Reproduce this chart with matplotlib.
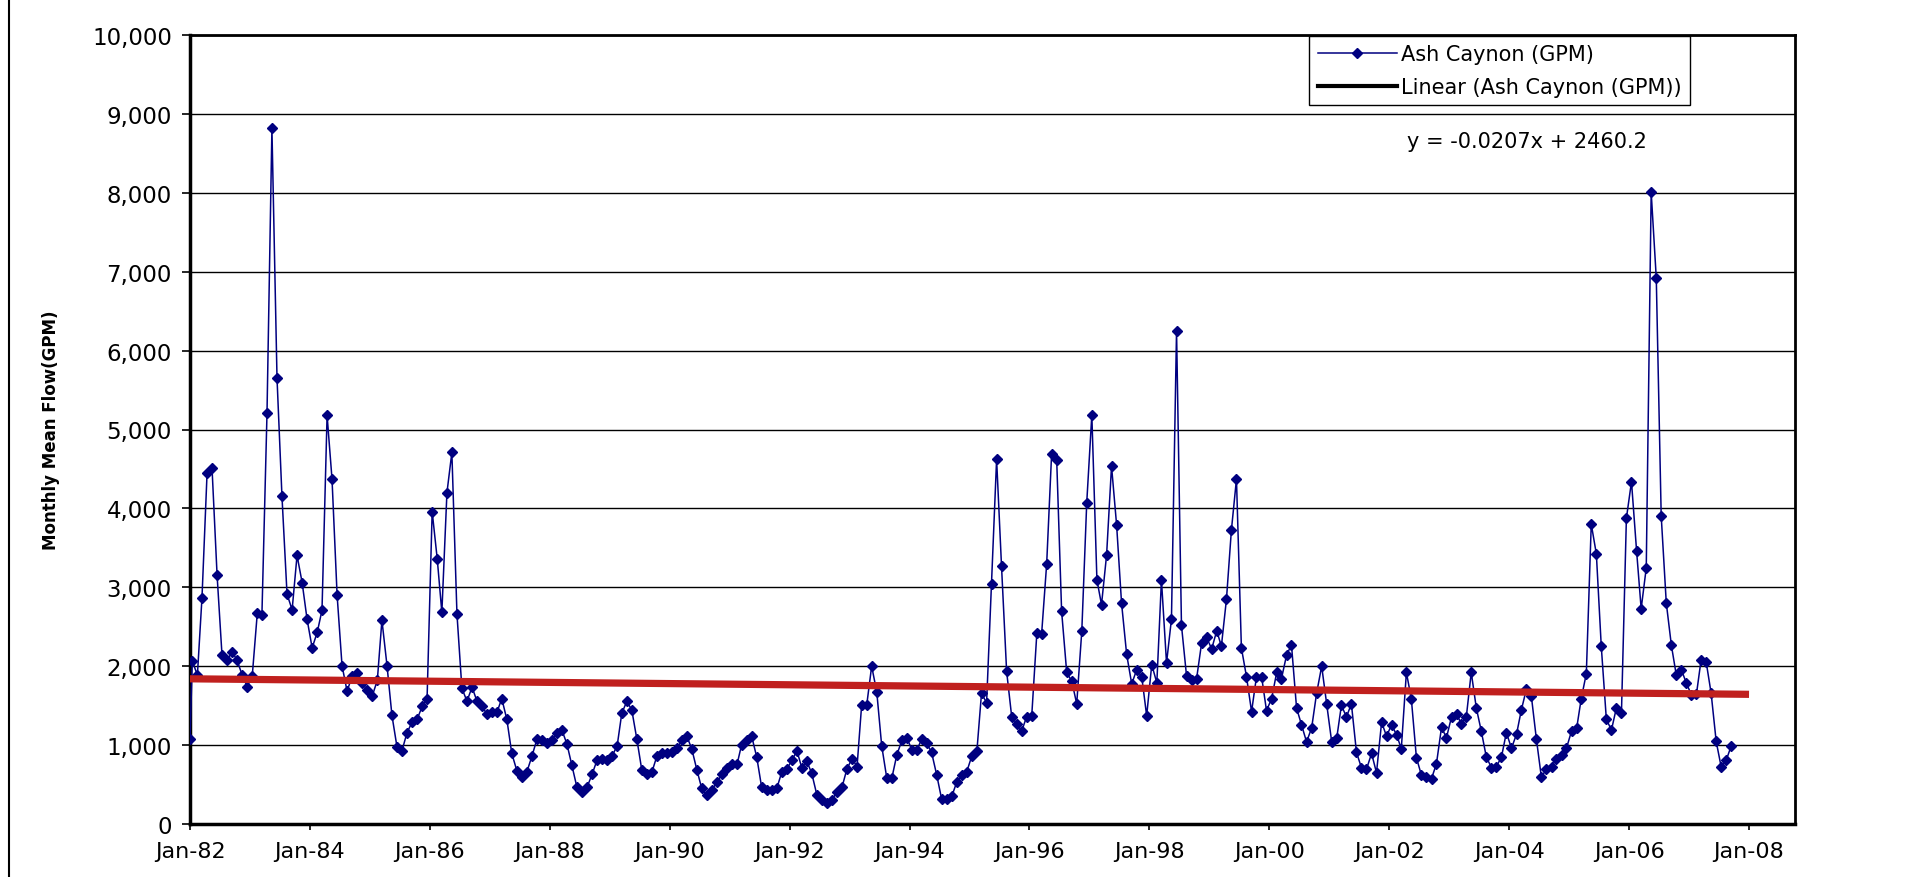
import matplotlib
matplotlib.use('Agg')
import matplotlib.pyplot as plt
import matplotlib.dates as mdates
import pandas as pd
from matplotlib.lines import Line2D
from matplotlib.ticker import FuncFormatter, MultipleLocator

# first reading on 1 Jan 1982, then monthly means (mid-month), Jan-82 onward
flow_start = 1075
flow = [
    2066, 1887, 2868, 4450, 4517, 3152, 2139, 2073, 2185, 2073, 1887, 1742,   # 1982
    1874, 2675, 2649, 5205, 8815, 5649, 4159, 2914, 2715, 3404, 3060, 2596,   # 1983
    2232, 2430, 2709, 5179, 4371, 2901, 2007, 1682, 1881, 1914, 1788, 1695,   # 1984
    1623, 1821, 2583, 2007, 1377, 974, 927, 1159, 1291, 1325, 1490, 1589,     # 1985
    3960, 3358, 2682, 4199, 4709, 2662, 1722, 1556, 1735, 1556, 1490, 1391,   # 1986
    1424, 1424, 1589, 1325, 894, 675, 596, 662, 861, 1073, 1060, 1026,        # 1987
    1060, 1159, 1192, 1013, 742, 464, 411, 464, 629, 808, 828, 808,           # 1988
    861, 993, 1404, 1556, 1444, 1073, 682, 636, 662, 861, 901, 901,           # 1989
    914, 960, 1060, 1113, 954, 689, 450, 364, 430, 530, 629, 715,             # 1990
    755, 755, 1007, 1060, 1113, 848, 464, 437, 437, 450, 662, 695,            # 1991
    808, 927, 715, 795, 642, 371, 300, 265, 298, 411, 464, 695,               # 1992
    828, 728, 1510, 1510, 2000, 1675, 993, 583, 583, 874, 1060, 1093,         # 1993
    940, 940, 1073, 1026, 907, 623, 318, 318, 351, 530, 616, 662,             # 1994
    861, 927, 1656, 1536, 3046, 4623, 3265, 1934, 1358, 1272, 1179, 1360,     # 1995
    1371, 2417, 2404, 3298, 4689, 4616, 2695, 1921, 1808, 1523, 2450, 4073,   # 1996
    5185, 3093, 2781, 3411, 4536, 3788, 2801, 2152, 1775, 1954, 1868, 1371,   # 1997
    2020, 1788, 3093, 2040, 2596, 6252, 2517, 1874, 1821, 1841, 2298, 2364,   # 1998
    2219, 2450, 2252, 2848, 3722, 4371, 2232, 1868, 1424, 1868, 1868, 1437,   # 1999
    1589, 1921, 1841, 2139, 2272, 1470, 1258, 1040, 1219, 1656, 2000, 1523,   # 2000
    1040, 1093, 1503, 1358, 1523, 907, 715, 695, 894, 649, 1291, 1113,        # 2001
    1258, 1126, 954, 1921, 1589, 841, 623, 596, 576, 762, 1225, 1093,         # 2002
    1358, 1391, 1272, 1358, 1921, 1470, 1179, 848, 715, 728, 848, 1159,       # 2003
    960, 1139, 1444, 1709, 1623, 1073, 596, 695, 728, 828, 874, 960,          # 2004
    1179, 1212, 1589, 1907, 3801, 3424, 2252, 1325, 1192, 1470, 1411, 3874,   # 2005
    4338, 3464, 2728, 3245, 8007, 6921, 3907, 2801, 2265, 1887, 1954, 1788,   # 2006
    1636, 1650, 2080, 2053, 1660, 1046, 728, 808, 993,                        # 2007
]

months = pd.date_range('1982-01-01', periods=len(flow), freq='MS') + pd.Timedelta(days=14)
dates = [pd.Timestamp('1982-01-01')] + list(months)
values = [flow_start] + flow

# Excel linear trendline, x = Excel date serial
slope = -0.0207
intercept = 2460.2
trend_dates = pd.to_datetime(['1982-01-01', '2008-01-01'])
trend = slope * (mdates.date2num(trend_dates) + 25569) + intercept

W, H = 1913, 878
fig = plt.figure(figsize=(W / 100, H / 100), dpi=100)
fig.patch.set_facecolor('white')
ax = fig.add_axes([190 / W, 1 - 825 / H, (1795 - 190) / W, (825 - 36) / H])

ax.plot(dates, values, color='#000080', lw=1.1, marker='D', ms=5.5,
        mfc='#000080', mec='#000080', zorder=3)
ax.plot(trend_dates, trend, color='#C0201E', lw=5.2, zorder=4,
        solid_capstyle='butt')

ax.set_ylim(0, 10000)
ax.set_xlim(pd.Timestamp('1982-01-01'), pd.Timestamp('2008-10-07'))
ax.yaxis.set_major_locator(MultipleLocator(1000))
ax.yaxis.set_major_formatter(FuncFormatter(lambda v, p: f'{v:,.0f}'))
ax.xaxis.set_major_locator(mdates.YearLocator(2, month=1, day=1))
ax.xaxis.set_major_formatter(mdates.DateFormatter('%b-%y'))

ax.yaxis.grid(True, color='black', lw=1.0)
ax.set_axisbelow(True)
for side in ['left', 'bottom']:
    ax.spines[side].set_linewidth(2.5)
for side in ['top', 'right']:
    ax.spines[side].set_linewidth(2)

ax.tick_params(axis='y', length=6, width=1.2, pad=7, labelsize=16.5)
ax.tick_params(axis='x', length=4, width=1.2, pad=8, labelsize=16)

fig.text(51 / W, 1 - 430 / H, 'Monthly Mean Flow(GPM)', rotation=90,
         ha='center', va='center', fontsize=12, fontweight='bold',
         family=['Liberation Sans Narrow', 'DejaVu Sans'])

handles = [Line2D([], [], color='#000080', lw=1.1, marker='D', ms=5.5),
           Line2D([], [], color='black', lw=3)]
leg = ax.legend(handles, ['Ash Caynon (GPM)', 'Linear (Ash Caynon (GPM))'],
                loc='upper right', bbox_to_anchor=(1690 / W, 1 - 37 / H),
                bbox_transform=fig.transFigure, fontsize=15, frameon=True,
                fancybox=False, framealpha=1, edgecolor='black',
                handlelength=3.8, handletextpad=0.2, borderpad=0.4,
                labelspacing=0.6, borderaxespad=0)
leg.get_frame().set_linewidth(1.0)

fig.text(1407 / W, 1 - 142 / H, 'y = -0.0207x + 2460.2', ha='left',
         va='center', fontsize=15)

fig.add_artist(Line2D([9 / W, 9 / W], [0, 1], transform=fig.transFigure,
                      color='black', lw=1.5))

fig.savefig('out.png', dpi=100)
